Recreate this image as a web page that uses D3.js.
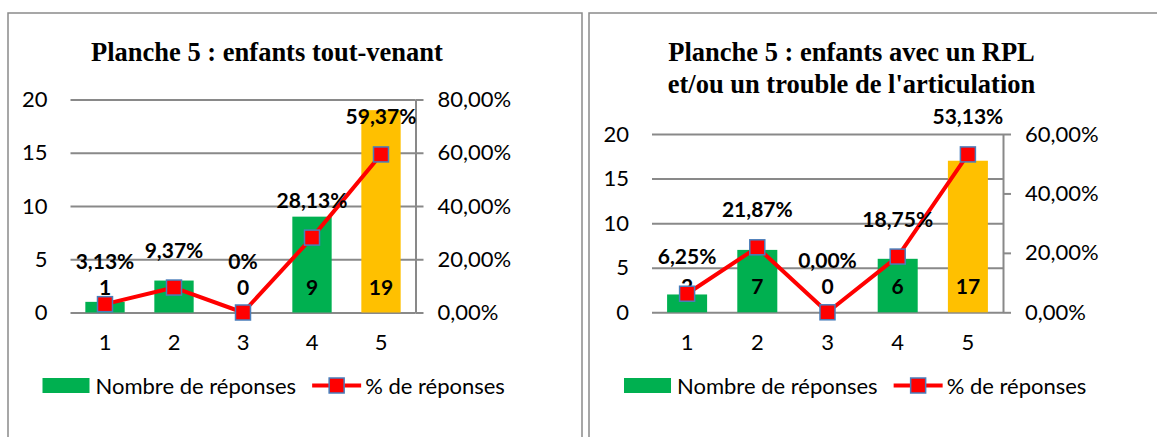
<!DOCTYPE html>
<html lang="fr">
<head>
<meta charset="UTF-8">
<script src="https://d3js.org/d3.v7.min.js"></script>
<title>Planche 5</title>
<style>
  body { margin: 0; background: #fff; }
  svg text { font-family: Lato, "Noto Sans", sans-serif; fill: #000; }
  .title { font-family: "Liberation Serif", "Times New Roman", serif !important; font-weight: bold; }
</style>
</head>
<body>
<svg id="svg" width="1157" height="437"></svg>
<script>
// categories shared by both charts
const categories = ["1", "2", "3", "4", "5"];

// chart 1 : enfants tout-venant
const titleTV = ["Planche 5 : enfants tout-venant"];
const countsTV = [1, 3, 0, 9, 19];
const pctTV = [3.13, 9.37, 0, 28.13, 59.37];
const pctLabelsTV = ["3,13%", "9,37%", "0%", "28,13%", "59,37%"];
const pctTicksTV = [0, 20, 40, 60, 80];

// chart 2 : enfants avec un RPL et/ou un trouble de l'articulation
const titleRPL = ["Planche 5 : enfants avec un RPL", "et/ou un trouble de l'articulation"];
const countsRPL = [2, 7, 0, 6, 17];
const pctRPL = [6.25, 21.87, 0, 18.75, 53.13];
const pctLabelsRPL = ["6,25%", "21,87%", "0,00%", "18,75%", "53,13%"];
const pctTicksRPL = [0, 20, 40, 60];

const countTicks = [0, 5, 10, 15, 20];
const legendLabels = ["Nombre de réponses", "% de réponses"];

const GREEN = "#00B050", ORANGE = "#FFC000", RED = "#FF0000", MARKER_EDGE = "#4A7EBB", GRID = "#898989";
const highlightCategory = "5";

const fr = d3.formatLocale({ decimal: ",", thousands: " ", grouping: [3], currency: ["", "€"] });
const fmtPct = v => fr.format(".2f")(v) + "%";

const svg = d3.select("#svg");

// panel frames
svg.append("rect").attr("x", 8).attr("y", 13).attr("width", 574).attr("height", 440)
  .attr("fill", "none").attr("stroke", "#8a8a8a").attr("stroke-width", 1.5);
svg.append("rect").attr("x", 589).attr("y", 13).attr("width", 600).attr("height", 440)
  .attr("fill", "none").attr("stroke", "#8a8a8a").attr("stroke-width", 1.5);

function drawChart(cfg) {
  const g = svg.append("g");
  const { x0, x1, yTop, yBottom } = cfg.box;

  const x = d3.scaleBand().domain(categories).range([x0, x1]).paddingInner(0.43).paddingOuter(0.215);
  const y = d3.scaleLinear().domain([0, 20]).range([yBottom, yTop]);
  const yPct = d3.scaleLinear().domain([0, d3.max(cfg.pctTicks)]).range([yBottom, yTop]);
  const cx = c => x(c) + x.bandwidth() / 2;

  // title
  const titleX = (x0 + x1) / 2 + 24;
  cfg.title.forEach((line, i) => {
    g.append("text").attr("class", "title")
      .attr("x", titleX).attr("y", 61 + i * 32)
      .attr("text-anchor", "middle")
      .style("font-size", "26.5px")
      .text(line);
  });

  // gridlines
  const grid = g.append("g").attr("transform", `translate(${x0},0)`)
    .call(d3.axisLeft(y).tickValues(countTicks).tickSize(-(x1 - x0)).tickFormat(""));
  grid.select(".domain").remove();
  grid.selectAll("line").attr("stroke", GRID).attr("stroke-width", 2);

  // left axis labels
  const left = g.append("g").attr("transform", `translate(${x0},0)`)
    .call(d3.axisLeft(y).tickValues(countTicks).tickSize(0).tickPadding(23));
  left.select(".domain").remove();
  left.selectAll("text").style("font-size", "22px").attr("font-family", null);

  // right axis
  const right = g.append("g").attr("transform", `translate(${x1},0)`)
    .call(d3.axisRight(yPct).tickValues(cfg.pctTicks).tickSize(8).tickSizeOuter(0).tickPadding(14).tickFormat(fmtPct));
  right.select(".domain").attr("stroke", GRID).attr("stroke-width", 2);
  right.selectAll("line").attr("stroke", GRID).attr("stroke-width", 2);
  right.selectAll("text").style("font-size", "22px").attr("font-family", null);

  // category axis labels
  const bottom = g.append("g").attr("transform", `translate(0,${yBottom})`)
    .call(d3.axisBottom(x).tickSize(0).tickPadding(22));
  bottom.select(".domain").remove();
  bottom.selectAll("text").style("font-size", "22px").attr("font-family", null);

  // bars
  g.selectAll(".bar").data(categories).enter().append("rect")
    .attr("x", c => x(c))
    .attr("y", (c, i) => y(cfg.counts[i]))
    .attr("width", x.bandwidth())
    .attr("height", (c, i) => yBottom - y(cfg.counts[i]))
    .attr("fill", c => c === highlightCategory ? ORANGE : GREEN);

  // line
  const line = d3.line().x(d => cx(d.c)).y(d => yPct(d.p));
  const pts = categories.map((c, i) => ({ c, p: cfg.pct[i] }));
  g.append("path").datum(pts).attr("d", line)
    .attr("fill", "none").attr("stroke", RED).attr("stroke-width", 4).attr("stroke-linejoin", "round");

  // count labels (inside base)
  g.selectAll(".count").data(categories).enter().append("text")
    .attr("x", cx).attr("y", yBottom - 18)
    .attr("text-anchor", "middle")
    .style("font-size", "21px").style("font-weight", "bold")
    .text((c, i) => cfg.counts[i]);

  // markers
  g.selectAll(".mk").data(pts).enter().append("rect")
    .attr("x", d => cx(d.c) - 7.5).attr("y", d => yPct(d.p) - 7.5)
    .attr("width", 15).attr("height", 15)
    .attr("fill", RED).attr("stroke", MARKER_EDGE).attr("stroke-width", 1.5);

  // percentage labels (above, kept clear of the count labels)
  g.selectAll(".pct").data(pts).enter().append("text")
    .attr("x", d => cx(d.c))
    .attr("y", d => Math.min(yPct(d.p) - 30, yBottom - 44))
    .attr("text-anchor", "middle")
    .style("font-size", "21px").style("font-weight", "bold")
    .text((d, i) => cfg.pctLabels[i]);

  // legend
  const lg = g.append("g").attr("transform", `translate(${x0 - 28},0)`);
  lg.append("rect").attr("x", 0).attr("y", 378).attr("width", 47).attr("height", 15).attr("fill", GREEN);
  const t1 = lg.append("text").attr("x", 53).attr("y", 394).style("font-size", "22px").text(legendLabels[0]);
  const w1 = t1.node().getComputedTextLength();
  const lx = 53 + w1 + 16;
  lg.append("line").attr("x1", lx).attr("x2", lx + 49).attr("y1", 385.5).attr("y2", 385.5)
    .attr("stroke", RED).attr("stroke-width", 4);
  lg.append("rect").attr("x", lx + 24.5 - 7.5).attr("y", 378).attr("width", 15).attr("height", 15)
    .attr("fill", RED).attr("stroke", MARKER_EDGE).attr("stroke-width", 1.5);
  lg.append("text").attr("x", lx + 53).attr("y", 394).style("font-size", "22px").text(legendLabels[1]);
}

drawChart({
  title: titleTV, counts: countsTV, pct: pctTV, pctLabels: pctLabelsTV, pctTicks: pctTicksTV,
  box: { x0: 70.5, x1: 415.5, yTop: 99.5, yBottom: 312.5 }
});
drawChart({
  title: titleRPL, counts: countsRPL, pct: pctRPL, pctLabels: pctLabelsRPL, pctTicks: pctTicksRPL,
  box: { x0: 652, x1: 1003, yTop: 134, yBottom: 312.3 }
});
</script>
</body>
</html>
